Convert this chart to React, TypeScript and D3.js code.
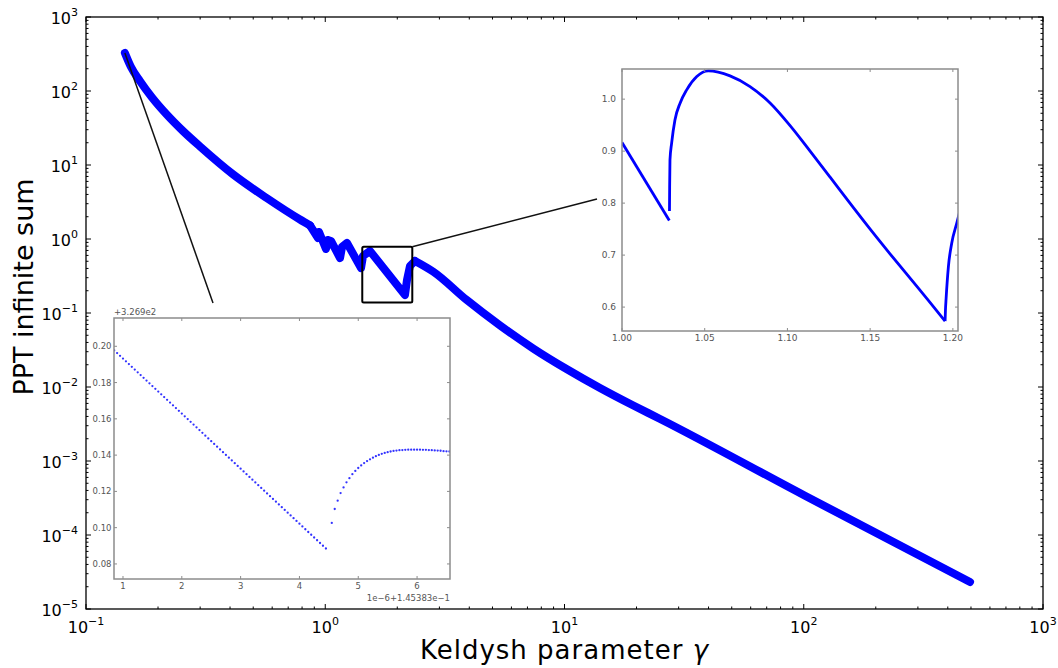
import React from "react";
import * as d3 from "d3";

const W = 1058;
const H = 668;

// ---- Main series: PPT infinite sum vs Keldysh parameter (log-log) ----
const mainGamma = [
  0.1454, 0.1542, 0.168, 0.1888, 0.2175, 0.2543, 0.2996, 0.4126, 0.569, 0.784,
  0.864,
  // threshold "teeth"
  0.9326, 0.9417, 1.007, 1.027, 1.057, 1.153, 1.175, 1.233, 1.411, 1.438, 1.538,
  2.154, 2.196, 2.26, 2.372,
  // tail
  2.83, 3.9, 5.38, 7.41, 10.2, 14.07, 19.4, 25.1, 101.2, 495.5,
];
const mainSum = [
  327, 211, 136.5, 81.7, 48.1, 28.8, 17.8, 7.44, 3.58, 1.834, 1.522,
  1.032, 1.243, 0.733, 0.969, 0.94, 0.553, 0.78, 0.883, 0.405, 0.589, 0.689,
  0.175, 0.279, 0.432, 0.505,
  0.361, 0.15, 0.0678, 0.0331, 0.0175, 0.0097, 0.00562, 0.0037, 0.000339,
  0.0000232,
];
const headEnd = 10; // last index of the smooth head
const tailStart = 25; // first index of the smooth tail

const xTickExps = [-1, 0, 1, 2, 3];
const yTickExps = [-5, -4, -3, -2, -1, 0, 1, 2, 3];

// ---- Inset 1: zoom on the first points (offset axes) ----
const in1LineX = [0.85, 4.5]; // straight run of samples (step 0.05)
const in1LineY = [0.1978, 0.087];
const in1Step = 0.05;
const in1DotX = [
  4.55, 4.6, 4.65, 4.7, 4.75, 4.8, 4.85, 4.9, 4.95, 5.0, 5.05, 5.1, 5.15, 5.2,
  5.25, 5.3, 5.35, 5.4, 5.45, 5.5, 5.55, 5.6, 5.65, 5.7, 5.75, 5.8, 5.85, 5.9,
  5.95, 6.0, 6.05, 6.1, 6.15, 6.2, 6.25, 6.3, 6.35, 6.4, 6.45, 6.5, 6.55,
];
const in1DotY = [
  0.1026, 0.1103, 0.1149, 0.1191, 0.1222, 0.125, 0.1273, 0.1295, 0.1313,
  0.1329, 0.1343, 0.1356, 0.1367, 0.1377, 0.1386, 0.1394, 0.1401, 0.1407,
  0.1412, 0.1416, 0.142, 0.1423, 0.1425, 0.1427, 0.1428, 0.1429, 0.143, 0.143,
  0.143, 0.143, 0.143, 0.1429, 0.1429, 0.1428, 0.1427, 0.1426, 0.1425, 0.1424,
  0.1422, 0.1421, 0.142,
];
const in1XTicks = [1, 2, 3, 4, 5, 6];
const in1YTicks = [0.08, 0.1, 0.12, 0.14, 0.16, 0.18, 0.2];

// ---- Inset 2: zoom on the boxed region ----
const in2AX = [1.0, 1.0286];
const in2AY = [0.9165, 0.7665];
const in2BX = [
  1.0287, 1.0288, 1.029, 1.03, 1.032, 1.0351, 1.0391, 1.0452, 1.0522, 1.0653,
  1.0774, 1.0895, 1.1016, 1.1137, 1.1258, 1.1379, 1.15, 1.162, 1.174, 1.1853,
  1.1953,
];
const in2BY = [
  0.785, 0.83, 0.8833, 0.9154, 0.96, 0.9923, 1.0179, 1.0435, 1.0544, 1.0448,
  1.0242, 0.9925, 0.949, 0.9, 0.85, 0.7995, 0.75, 0.7025, 0.656, 0.6125, 0.573,
];
const in2CX = [1.1953, 1.1955, 1.1959, 1.1973, 1.1993, 1.2024, 1.204];
const in2CY = [0.573, 0.593, 0.616, 0.678, 0.723, 0.762, 0.782];
const in2XTicks = [1.0, 1.05, 1.1, 1.15, 1.2];
const in2YTicks = [0.6, 0.7, 0.8, 0.9, 1.0];

// ---- Annotations (main data coordinates) ----
const conn1Gamma = [0.1454, 0.3395];
const conn1Sum = [327, 0.1365];
const boxGamma = [1.428, 2.311];
const boxSum = [0.139, 0.787];
const conn2Gamma = [2.311, 13.67];
const conn2Sum = [0.787, 3.47];

const FONT = "DejaVu Sans, Liberation Sans, sans-serif";
const BLUE = "#0000ff";
const INSET_FRAME = "#8c8c8c";
const INSET_TEXT = "#555";

function minorTicks(lo: number, hi: number) {
  const out: number[] = [];
  for (let e = lo; e < hi; e++) {
    for (let k = 2; k <= 9; k++) out.push(k * Math.pow(10, e));
  }
  return out;
}

export default function App() {
  const x = d3.scaleLog().domain([0.1, 1000]).range([86, 1043]);
  const y = d3.scaleLog().domain([1e-5, 1e3]).range([609, 17]);
  const [x0, x1] = x.range();
  const [y0, y1] = y.range();

  const idx = mainGamma.map((_, i) => i);
  const mkMain = (ids: number[], curve: d3.CurveFactory) =>
    d3
      .line<number>()
      .x((i) => x(mainGamma[i]))
      .y((i) => y(mainSum[i]))
      .curve(curve)(ids) || "";
  const headPath = mkMain(idx.slice(0, headEnd + 1), d3.curveMonotoneX);
  const teethPath = mkMain(idx.slice(headEnd, tailStart + 1), d3.curveLinear);
  const tailPath = mkMain(idx.slice(tailStart), d3.curveMonotoneX);

  const xMinor = minorTicks(-1, 3);
  const yMinor = minorTicks(-5, 3);

  // inset 1
  const ix1 = d3.scaleLinear().domain([0.847, 6.56]).range([114, 450]);
  const iy1 = d3.scaleLinear().domain([0.0717, 0.2156]).range([579, 318]);
  const [a1, b1] = ix1.range();
  const [c1, d1] = iy1.range();
  const lx0 = ix1(in1LineX[0]);
  const ly0 = iy1(in1LineY[0]);
  const lx1 = ix1(in1LineX[1]);
  const ly1 = iy1(in1LineY[1]);
  const segLen = Math.hypot(lx1 - lx0, ly1 - ly0);
  const nSteps = Math.round((in1LineX[1] - in1LineX[0]) / in1Step);
  const gap = segLen / nSteps;

  // inset 2
  const ix2 = d3.scaleLinear().domain([1.0, 1.2031]).range([622, 958]);
  const iy2 = d3.scaleLinear().domain([0.554, 1.058]).range([331, 69]);
  const [a2, b2] = ix2.range();
  const [c2, d2] = iy2.range();
  const l2 = (xs: number[], ys: number[]) =>
    d3
      .line<number>()
      .x((_, i) => ix2(xs[i]))
      .y((_, i) => iy2(ys[i]))
      .curve(d3.curveMonotoneX)(xs) || "";

  const sup = (e: number) => (e < 0 ? "\u2212" + Math.abs(e) : String(e));

  return (
    <svg width={W} height={H} style={{ position: "absolute", left: 0, top: 0 }} fontFamily={FONT}>
      <rect x={0} y={0} width={W} height={H} fill="#fff" />
      <defs>
        <clipPath id="clipMain">
          <rect x={x0} y={y1} width={x1 - x0} height={y0 - y1} />
        </clipPath>
        <clipPath id="clipIn2">
          <rect x={a2} y={d2} width={b2 - a2} height={c2 - d2} />
        </clipPath>
        <clipPath id="clipIn1">
          <rect x={a1} y={d1} width={b1 - a1} height={c1 - d1} />
        </clipPath>
      </defs>

      {/* main ticks */}
      <g stroke="#000" strokeWidth={1}>
        {xTickExps.map((e) => {
          const px = x(Math.pow(10, e));
          return (
            <g key={"xt" + e}>
              <line x1={px} x2={px} y1={y0} y2={y0 - 5} />
              <line x1={px} x2={px} y1={y1} y2={y1 + 5} />
            </g>
          );
        })}
        {xMinor.map((v, i) => {
          const px = x(v);
          return (
            <g key={"xm" + i}>
              <line x1={px} x2={px} y1={y0} y2={y0 - 2.5} />
              <line x1={px} x2={px} y1={y1} y2={y1 + 2.5} />
            </g>
          );
        })}
        {yTickExps.map((e) => {
          const py = y(Math.pow(10, e));
          return (
            <g key={"yt" + e}>
              <line x1={x0} x2={x0 + 5} y1={py} y2={py} />
              <line x1={x1} x2={x1 - 5} y1={py} y2={py} />
            </g>
          );
        })}
        {yMinor.map((v, i) => {
          const py = y(v);
          return (
            <g key={"ym" + i}>
              <line x1={x0} x2={x0 + 2.5} y1={py} y2={py} />
              <line x1={x1} x2={x1 - 2.5} y1={py} y2={py} />
            </g>
          );
        })}
      </g>

      {/* main curve */}
      <g
        clipPath="url(#clipMain)"
        fill="none"
        stroke={BLUE}
        strokeWidth={8}
        strokeLinejoin="round"
        strokeLinecap="round"
      >
        <path d={headPath} />
        <path d={teethPath} />
        <path d={tailPath} />
      </g>

      {/* annotations */}
      <line
        x1={x(conn1Gamma[0])}
        y1={y(conn1Sum[0])}
        x2={x(conn1Gamma[1])}
        y2={y(conn1Sum[1])}
        stroke="#111"
        strokeWidth={1.5}
      />
      <rect
        x={x(boxGamma[0])}
        y={y(boxSum[1])}
        width={x(boxGamma[1]) - x(boxGamma[0])}
        height={y(boxSum[0]) - y(boxSum[1])}
        fill="none"
        stroke="#000"
        strokeWidth={2}
        rx={1.5}
      />
      <line
        x1={x(conn2Gamma[0])}
        y1={y(conn2Sum[0])}
        x2={x(conn2Gamma[1])}
        y2={y(conn2Sum[1])}
        stroke="#111"
        strokeWidth={1.5}
      />

      {/* main frame */}
      <rect x={x0} y={y1} width={x1 - x0} height={y0 - y1} fill="none" stroke="#000" strokeWidth={1.3} />

      {/* main tick labels */}
      <g fill="#000" fontSize={16}>
        {xTickExps.map((e) => (
          <text key={"xl" + e} x={x(Math.pow(10, e))} y={y0 + 24} textAnchor="middle">
            <tspan>10</tspan>
            <tspan dy={-8} fontSize={11}>
              {sup(e)}
            </tspan>
          </text>
        ))}
        {yTickExps.map((e) => (
          <text key={"yl" + e} x={x0 - 8} y={y(Math.pow(10, e)) + 7} textAnchor="end">
            <tspan>10</tspan>
            <tspan dy={-8} fontSize={11}>
              {sup(e)}
            </tspan>
          </text>
        ))}
      </g>

      {/* axis labels */}
      <text
        x={(x0 + x1) / 2}
        y={659}
        textAnchor="middle"
        fontSize={26}
        letterSpacing={1}
        fill="#000"
      >
        Keldysh parameter <tspan fontStyle="italic">γ</tspan>
      </text>
      <text
        transform={`translate(33, 287) rotate(-90)`}
        textAnchor="middle"
        fontSize={27}
        fill="#000"
      >
        PPT infinite sum
      </text>

      {/* ---- inset 1 ---- */}
      <g>
        <rect x={a1} y={d1} width={b1 - a1} height={c1 - d1} fill="#fff" />
        <g clipPath="url(#clipIn1)">
          <line
            x1={lx0}
            y1={ly0}
            x2={lx1}
            y2={ly1}
            stroke={BLUE}
            strokeOpacity={0.8}
            strokeWidth={2.3}
            strokeLinecap="round"
            strokeDasharray={`0 ${gap}`}
          />
          {in1DotX.map((v, i) => (
            <circle key={"d" + i} cx={ix1(v)} cy={iy1(in1DotY[i])} r={1.15} fill={BLUE} fillOpacity={0.8} />
          ))}
        </g>
        <g stroke={INSET_FRAME} strokeWidth={1}>
          {in1XTicks.map((t) => (
            <g key={"i1x" + t}>
              <line x1={ix1(t)} x2={ix1(t)} y1={c1} y2={c1 - 3} />
              <line x1={ix1(t)} x2={ix1(t)} y1={d1} y2={d1 + 3} />
            </g>
          ))}
          {in1YTicks.map((t) => (
            <g key={"i1y" + t}>
              <line x1={a1} x2={a1 + 3} y1={iy1(t)} y2={iy1(t)} />
              <line x1={b1} x2={b1 - 3} y1={iy1(t)} y2={iy1(t)} />
            </g>
          ))}
          <rect x={a1} y={d1} width={b1 - a1} height={c1 - d1} fill="none" strokeWidth={1.5} />
        </g>
        <g fill={INSET_TEXT} fontSize={8.5}>
          {in1XTicks.map((t) => (
            <text key={"i1xl" + t} x={ix1(t)} y={c1 + 10} textAnchor="middle">
              {t}
            </text>
          ))}
          {in1YTicks.map((t) => (
            <text key={"i1yl" + t} x={a1 - 2.5} y={iy1(t) + 3} textAnchor="end">
              {t.toFixed(2)}
            </text>
          ))}
          <text x={a1} y={d1 - 3} textAnchor="start">
            +3.269e2
          </text>
          <text x={b1} y={c1 + 22} textAnchor="end">
            1e−6+1.45383e−1
          </text>
        </g>
      </g>

      {/* ---- inset 2 ---- */}
      <g>
        <rect x={a2} y={d2} width={b2 - a2} height={c2 - d2} fill="#fff" />
        <g clipPath="url(#clipIn2)" fill="none" stroke={BLUE} strokeWidth={2.8} strokeLinejoin="round">
          <path d={l2(in2AX, in2AY)} />
          <path d={l2(in2BX, in2BY)} />
          <path d={l2(in2CX, in2CY)} />
        </g>
        <g stroke={INSET_FRAME} strokeWidth={1}>
          {in2XTicks.map((t) => (
            <g key={"i2x" + t}>
              <line x1={ix2(t)} x2={ix2(t)} y1={c2} y2={c2 - 3} />
              <line x1={ix2(t)} x2={ix2(t)} y1={d2} y2={d2 + 3} />
            </g>
          ))}
          {in2YTicks.map((t) => (
            <g key={"i2y" + t}>
              <line x1={a2} x2={a2 + 3} y1={iy2(t)} y2={iy2(t)} />
              <line x1={b2} x2={b2 - 3} y1={iy2(t)} y2={iy2(t)} />
            </g>
          ))}
          <rect x={a2} y={d2} width={b2 - a2} height={c2 - d2} fill="none" strokeWidth={1.5} />
        </g>
        <g fill={INSET_TEXT} fontSize={9}>
          {in2XTicks.map((t) => (
            <text key={"i2xl" + t} x={ix2(t)} y={c2 + 10} textAnchor="middle">
              {t.toFixed(2)}
            </text>
          ))}
          {in2YTicks.map((t) => (
            <text key={"i2yl" + t} x={a2 - 6} y={iy2(t) + 3.2} textAnchor="end">
              {t.toFixed(1)}
            </text>
          ))}
        </g>
      </g>
    </svg>
  );
}
